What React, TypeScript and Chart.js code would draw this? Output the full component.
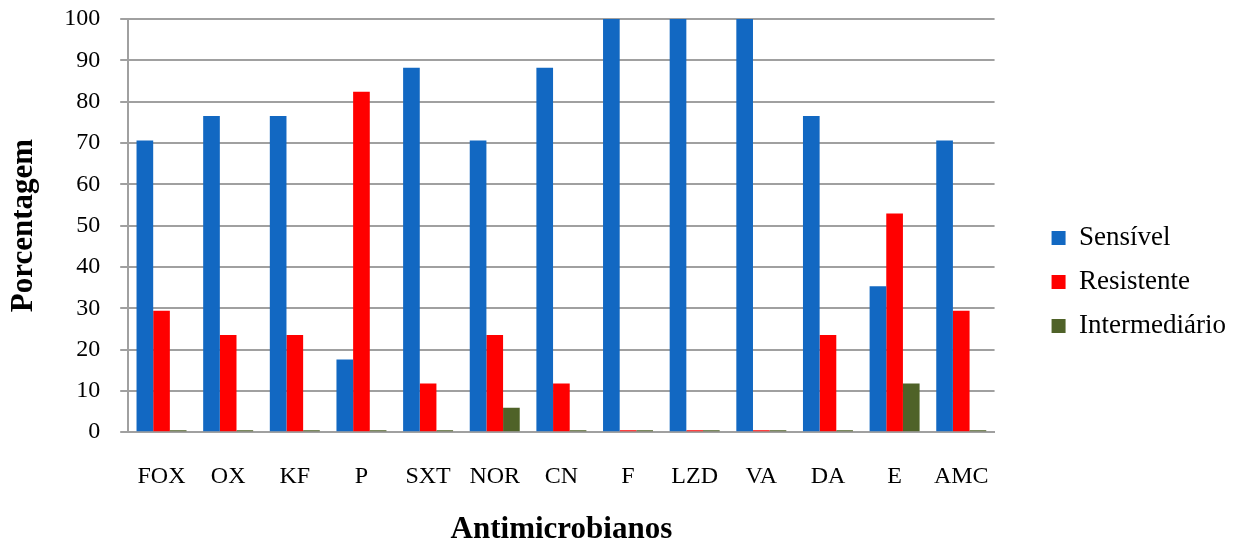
import React, { useEffect, useRef } from "react";
import { Chart, registerables } from "chart.js";

Chart.register(...registerables);

const categories = ["FOX", "OX", "KF", "P", "SXT", "NOR", "CN", "F", "LZD", "VA", "DA", "E", "AMC"];
const sensivel = [70.6, 76.5, 76.5, 17.6, 88.2, 70.6, 88.2, 100, 100, 100, 76.5, 35.3, 70.6];
const resistente = [29.4, 23.5, 23.5, 82.4, 11.8, 23.5, 11.8, 0, 0, 0, 23.5, 52.9, 29.4];
const intermediario = [0, 0, 0, 0, 0, 5.9, 0, 0, 0, 0, 0, 11.8, 0];
const seriesNames = ["Sensível", "Resistente", "Intermediário"];
const yTicks = [0, 10, 20, 30, 40, 50, 60, 70, 80, 90, 100];

export default function App() {
  const ref = useRef<HTMLCanvasElement | null>(null);
  useEffect(() => {
    if (!ref.current) return;
    const font = "'Liberation Serif', 'Times New Roman', serif";
    const chart = new Chart(ref.current, {
      type: "bar",
      data: {
        labels: categories,
        datasets: [
          { label: seriesNames[0], data: sensivel, backgroundColor: "#1268C2", borderWidth: 0, minBarLength: 2 },
          { label: seriesNames[1], data: resistente, backgroundColor: "#FF0000", borderWidth: 0, minBarLength: 2 },
          { label: seriesNames[2], data: intermediario, backgroundColor: "#4F6228", borderWidth: 0, minBarLength: 2 },
        ],
      },
      options: {
        responsive: false,
        animation: false,
        layout: { padding: { top: 19, bottom: 0, left: 4, right: 6 } },
        datasets: { bar: { categoryPercentage: 0.75, barPercentage: 1 } },
        plugins: {
          legend: {
            position: "right",
            align: "center",
            labels: {
              font: { family: font, size: 27 },
              color: "#000",
              boxWidth: 14,
              boxHeight: 14,
              padding: 17,
            },
          },
          tooltip: { enabled: false },
        },
        scales: {
          x: {
            grid: { display: false },
            border: { display: true, color: "#A0A0A0", width: 2 },
            ticks: { font: { family: font, size: 24 }, color: "#000", padding: 22 },
            title: {
              display: true,
              text: "Antimicrobianos",
              font: { family: font, size: 31, weight: "bold", lineHeight: 1.0 },
              color: "#000",
              padding: { top: 1, bottom: 0 },
            },
          },
          y: {
            min: 0,
            max: 100,
            afterBuildTicks: (axis: any) => {
              axis.ticks = yTicks.map((v) => ({ value: v }));
            },
            afterFit: (scale: any) => {
              scale.paddingTop = 0;
              scale.paddingBottom = 0;
            },
            grid: { color: "#A0A0A0", lineWidth: 2, tickLength: 8 },
            border: { display: true, color: "#A0A0A0", width: 2 },
            ticks: { font: { family: font, size: 24 }, color: "#000", padding: 20 },
            title: {
              display: true,
              text: "Porcentagem",
              font: { family: font, size: 31, weight: "bold" },
              color: "#000",
              padding: { top: 1, bottom: 2 },
            },
          },
          y2: {
            position: "right",
            display: true,
            grid: { display: false },
            border: { display: false },
            ticks: { display: false },
            afterFit: (scale: any) => {
              scale.width = 40;
              scale.paddingTop = 0;
              scale.paddingBottom = 0;
            },
          },
        },
      },
    });
    return () => chart.destroy();
  }, []);
  return (
    <div style={{ position: "absolute", left: 0, top: 0, width: 1242, height: 545, background: "#fff" }}>
      <canvas ref={ref} width={1242} height={545} />
    </div>
  );
}
